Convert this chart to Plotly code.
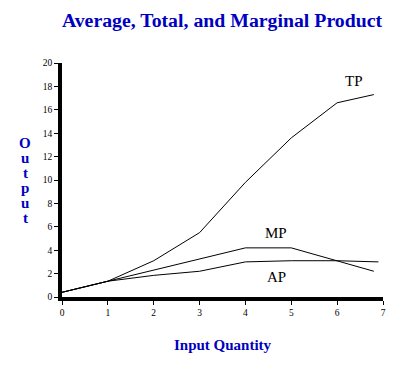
import plotly.graph_objects as go

x_tp = [0, 1, 2, 3, 4, 5, 6, 6.8]
tp = [0.4, 1.35, 3.1, 5.5, 9.8, 13.6, 16.6, 17.3]
x_mp = [0, 1, 2, 3, 4, 5, 6, 6.8]
mp = [0.4, 1.35, 2.35, 3.25, 4.2, 4.2, 3.1, 2.2]
x_ap = [0, 1, 2, 3, 4, 5, 6, 6.9]
ap = [0.4, 1.35, 1.85, 2.2, 3.0, 3.1, 3.1, 3.0]
x_ticks = [0, 1, 2, 3, 4, 5, 6, 7]
y_ticks = [0, 2, 4, 6, 8, 10, 12, 14, 16, 18, 20]

labels = [("TP", 6.36, 18.5), ("MP", 4.66, 5.5), ("AP", 4.68, 1.75)]
y_title_letters = ["O", "u", "t", "p", "u", "t"]

blue = "#0000c0"
serif = "Times New Roman, Liberation Serif, serif"

fig = go.Figure()
for xs, ys in [(x_tp, tp), (x_mp, mp), (x_ap, ap)]:
    fig.add_trace(go.Scatter(x=xs, y=ys, mode="lines",
                             line=dict(color="black", width=1), showlegend=False,
                             hoverinfo="skip"))

for txt, lx, ly in labels:
    fig.add_annotation(x=lx, y=ly, text=txt, showarrow=False,
                       font=dict(family=serif, size=15, color="black"))

# stacked vertical axis title, letter by letter (15 px spacing)
for i, ch in enumerate(y_title_letters):
    py = 143 + i * 15
    fig.add_annotation(xref="paper", yref="paper", x=(25 - 62) / 321,
                       y=(297 - py) / 234, text="<b>%s</b>" % ch, showarrow=False,
                       font=dict(family=serif, size=15, color=blue),
                       xanchor="center", yanchor="middle")

fig.add_annotation(xref="paper", yref="paper", x=0.5, y=-0.205,
                   text="<b>Input Quantity</b>", showarrow=False,
                   font=dict(family=serif, size=15, color=blue),
                   xanchor="center", yanchor="middle")

fig.update_layout(
    width=408, height=368,
    margin=dict(l=54, r=33, t=55, b=79),
    paper_bgcolor="white", plot_bgcolor="white",
    title=dict(text="<b>Average, Total, and Marginal Product</b>",
               x=0.5245, xanchor="center", y=0.967, yanchor="middle",
               font=dict(family=serif, size=19.8, color=blue)),
    xaxis=dict(range=[0, 7], tickvals=x_ticks, showgrid=False, zeroline=False,
               showline=True, linecolor="black", linewidth=3.5,
               ticks="outside", ticklen=4, tickcolor="black", tickwidth=1,
               tickfont=dict(family=serif, size=9.5, color="black")),
    yaxis=dict(range=[0, 20], tickvals=y_ticks, showgrid=False, zeroline=False,
               showline=True, linecolor="black", linewidth=3.5,
               ticks="outside", ticklen=4, tickcolor="black", tickwidth=1,
               tickfont=dict(family=serif, size=9.5, color="black")),
)
fig.write_html("out.html")
